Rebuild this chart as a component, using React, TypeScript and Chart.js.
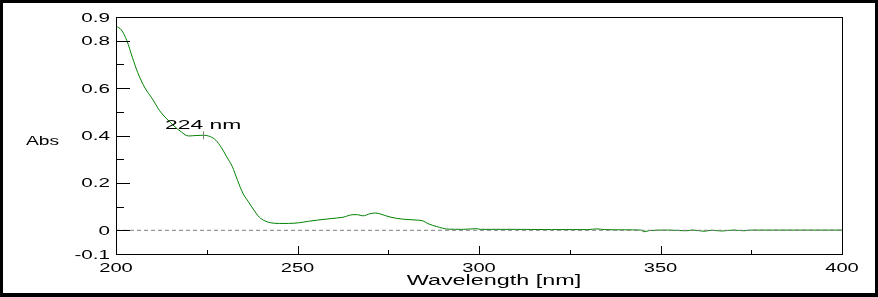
import React, { useEffect, useRef } from "react";
import { Chart, registerables } from "chart.js";

Chart.register(...registerables);

// Spectrum data (wavelength in nm, absorbance)
const wavelengths = [
  200, 201.5, 203, 204.5, 206, 208, 210, 212, 214, 216, 218, 220, 222, 224, 226, 227.5, 229, 230.5, 232, 233.5,
  235, 236.5, 238, 239.5, 241, 242.5, 245, 247.5, 250.5, 253, 255.5, 259, 262.5, 265.3, 266.5, 268, 270, 271.5,
  273, 275.5, 279, 283, 284.5, 286, 288.3, 291.5, 295.7, 299.3, 300.3, 310, 320, 330, 332.5, 334.5, 340, 344.5,
  345.5, 347, 352, 357, 359, 362, 364, 367, 370, 373, 375, 400,
];
const absorbance = [
  0.862, 0.845, 0.8, 0.73, 0.665, 0.6, 0.555, 0.505, 0.47, 0.44, 0.415, 0.398, 0.4, 0.401, 0.395, 0.38, 0.35,
  0.31, 0.27, 0.21, 0.155, 0.12, 0.085, 0.055, 0.04, 0.032, 0.029, 0.029, 0.032, 0.038, 0.043, 0.049, 0.055,
  0.066, 0.066, 0.061, 0.07, 0.073, 0.068, 0.056, 0.047, 0.043, 0.04, 0.028, 0.016, 0.005, 0.004, 0.007, 0.004,
  0.004, 0.003, 0.003, 0.006, 0.003, 0.002, 0.001, -0.006, -0.001, 0.001, -0.002, 0.001, -0.004, 0.0, -0.003,
  0.001, -0.002, 0.001, 0.001,
];

const xTickLabels = [200, 250, 300, 350, 400];
const xMajorTicks = [250, 300, 350];
const xMinorTicks = [225, 275, 325, 375];
const yTickLabels = [0.9, 0.8, 0.6, 0.4, 0.2, 0, -0.1];
const yMajorTicks = [0, 0.2, 0.4, 0.6, 0.8];
const yMinorTicks = [0.1, 0.3, 0.5, 0.7];

const peakWavelength = 224;
const peakAbs = 0.401;
const peakLabel = "224 nm";
const xTitle = "Wavelength [nm]";
const yTitle = "Abs";

const FONT = '"Liberation Sans", Arial, sans-serif';

function stretchText(
  ctx: CanvasRenderingContext2D,
  text: string,
  x: number,
  y: number,
  align: "left" | "right" | "center",
  size: number,
  sx: number
) {
  ctx.save();
  ctx.font = `${size}px ${FONT}`;
  const w = ctx.measureText(text).width * sx;
  const left = align === "right" ? x - w : align === "center" ? x - w / 2 : x;
  ctx.translate(left, y);
  ctx.scale(sx, 1);
  ctx.textAlign = "left";
  ctx.textBaseline = "alphabetic";
  ctx.fillStyle = "#000";
  ctx.fillText(text, 0, 0);
  ctx.restore();
}

const decorPlugin = {
  id: "decor",
  afterDraw(chart: any) {
    const ctx: CanvasRenderingContext2D = chart.ctx;
    const { left, right, top, bottom } = chart.chartArea;
    const xs = chart.scales.x;
    const ys = chart.scales.y;
    const W = chart.width;
    const H = chart.height;

    ctx.save();
    // outer frame
    ctx.fillStyle = "#000";
    ctx.fillRect(0, 0, W, 3);
    ctx.fillRect(0, H - 4, W, 4);
    ctx.fillRect(0, 0, 3, H);
    ctx.fillRect(W - 3, 0, 3, H);

    // plot box
    ctx.strokeStyle = "#000";
    ctx.lineWidth = 1;
    ctx.strokeRect(left + 0.5, top + 0.5, right - left, bottom - top);
    ctx.beginPath();
    ctx.moveTo(left, bottom + 0.5);
    ctx.lineTo(right, bottom + 0.5);
    ctx.stroke();

    // y ticks (inward)
    ctx.beginPath();
    yMajorTicks.forEach((v) => {
      const p = Math.round(ys.getPixelForValue(v)) + 0.5;
      ctx.moveTo(left, p);
      ctx.lineTo(left + 14, p);
    });
    yMinorTicks.forEach((v) => {
      const p = Math.round(ys.getPixelForValue(v)) + 0.5;
      ctx.moveTo(left, p);
      ctx.lineTo(left + 8, p);
    });
    xMajorTicks.forEach((v) => {
      const p = Math.round(xs.getPixelForValue(v)) + 0.5;
      ctx.moveTo(p, bottom);
      ctx.lineTo(p, bottom - 8);
    });
    xMinorTicks.forEach((v) => {
      const p = Math.round(xs.getPixelForValue(v)) + 0.5;
      ctx.moveTo(p, bottom);
      ctx.lineTo(p, bottom - 4);
    });
    ctx.stroke();

    // tick labels
    yTickLabels.forEach((v) => {
      const p = ys.getPixelForValue(v);
      stretchText(ctx, String(v), left - 6, p + 4.5, "right", 12, 1.72);
    });
    xTickLabels.forEach((v) => {
      const p = xs.getPixelForValue(v);
      stretchText(ctx, String(v), p, bottom + 18, "center", 12, 1.68);
    });

    // axis titles
    stretchText(ctx, xTitle, (left + right) / 2 + 15, bottom + 31, "center", 14, 1.67);
    stretchText(ctx, yTitle, 26, 145, "left", 12, 1.6);

    // peak annotation
    const px = Math.round(xs.getPixelForValue(peakWavelength)) + 0.5;
    const py = ys.getPixelForValue(peakAbs);
    ctx.strokeStyle = "#808080";
    ctx.beginPath();
    ctx.moveTo(px, py - 4);
    ctx.lineTo(px, py + 4);
    ctx.stroke();
    stretchText(ctx, peakLabel, 165, 128.5, "left", 13, 1.76);

    ctx.restore();
  },
};

export default function App() {
  const canvasRef = useRef<HTMLCanvasElement | null>(null);

  useEffect(() => {
    document.body.style.margin = "0";
    const canvas = canvasRef.current;
    if (!canvas) return;
    const points = wavelengths.map((w, i) => ({ x: w, y: absorbance[i] }));
    const chart = new Chart(canvas, {
      type: "line",
      data: {
        datasets: [
          {
            data: [
              { x: 200, y: 0 },
              { x: 400, y: 0 },
            ],
            borderColor: "#808080",
            borderWidth: 1,
            borderDash: [4, 3],
            pointRadius: 0,
            fill: false,
          },
          {
            data: points,
            borderColor: "#008000",
            borderWidth: 1,
            pointRadius: 0,
            fill: false,
            cubicInterpolationMode: "monotone",
          },
        ],
      },
      options: {
        responsive: false,
        animation: false,
        events: [],
        layout: { padding: { left: 116, top: 17, right: 36, bottom: 43 } },
        plugins: {
          legend: { display: false },
          tooltip: { enabled: false },
        },
        scales: {
          x: { type: "linear", min: 200, max: 400, display: false },
          y: { type: "linear", min: -0.1, max: 0.9, display: false },
        },
      },
      plugins: [decorPlugin],
    });
    return () => chart.destroy();
  }, []);

  return (
    <div style={{ position: "absolute", left: 0, top: 0, width: 878, height: 297, background: "#fff" }}>
      <canvas ref={canvasRef} width={878} height={297} style={{ display: "block" }} />
    </div>
  );
}
